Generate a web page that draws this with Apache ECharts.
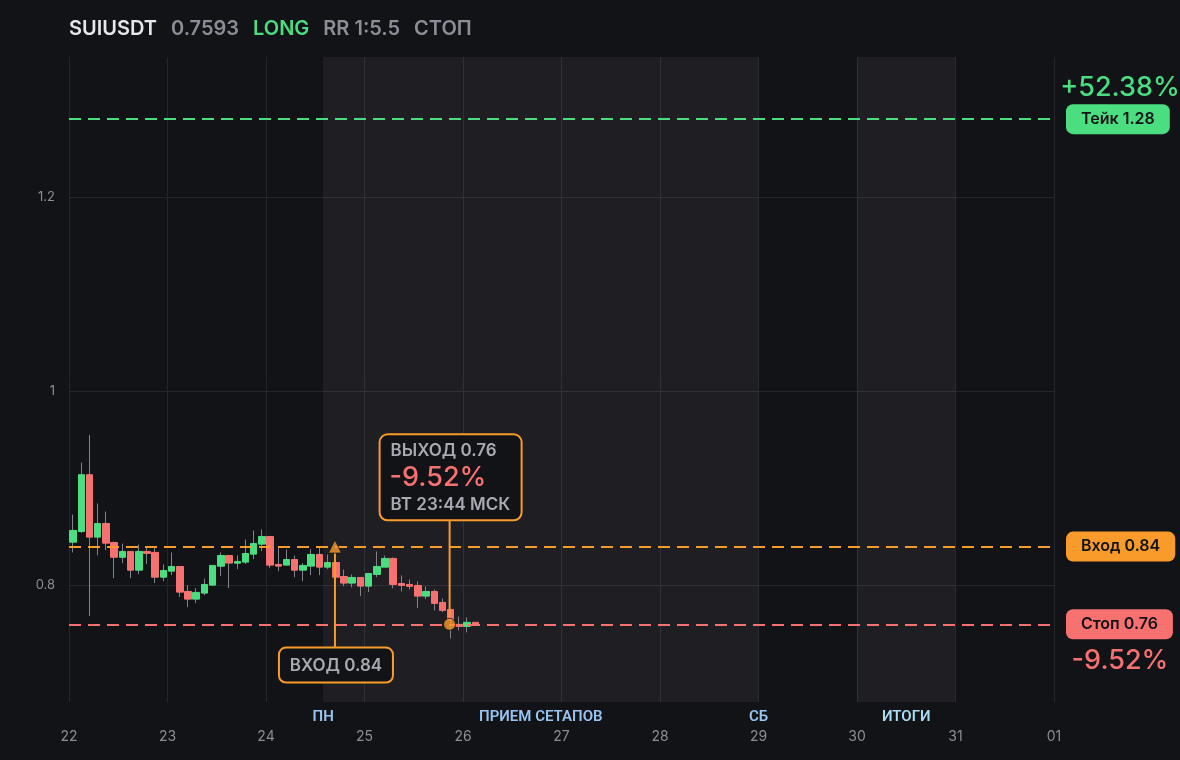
<!DOCTYPE html>
<html><head><meta charset="utf-8">
<script src="https://cdn.jsdelivr.net/npm/echarts@6/dist/echarts.min.js"></script>
<style>html,body{margin:0;padding:0;background:#121317;}#c{width:1180px;height:760px;}</style>
</head><body><div id="c"></div>
<script>
// ---- data ----
const dayLabels = ['22','23','24','25','26','27','28','29','30','31','01'];
const candleOpen  = [0.8445,0.8555,0.914,0.8497,0.8638,0.8442,0.829,0.835,0.8157,0.835,0.834,0.8085,0.8147,0.8195,0.7938,0.7859,0.7921,0.8003,0.8198,0.8308,0.8229,0.824,0.8322,0.8425,0.8504,0.8216,0.8209,0.8267,0.8157,0.8199,0.8319,0.8188,0.8236,0.8092,0.8024,0.8082,0.7993,0.8113,0.8188,0.8278,0.802,0.801,0.800,0.789,0.7938,0.7825,0.7753,0.7599,0.7578,0.762];
const candleHigh  = [0.873,0.9265,0.955,0.8843,0.876,0.8452,0.843,0.835,0.842,0.839,0.840,0.8216,0.834,0.8195,0.8003,0.7972,0.807,0.8206,0.834,0.8308,0.8308,0.8473,0.8566,0.8576,0.8504,0.8384,0.837,0.8308,0.823,0.8373,0.840,0.8319,0.8245,0.8164,0.8113,0.8082,0.8123,0.835,0.8308,0.8288,0.8103,0.806,0.8041,0.799,0.7959,0.7866,0.7753,0.768,0.767,0.762];
const candleLow   = [0.834,0.854,0.7684,0.831,0.8363,0.8075,0.823,0.8075,0.8116,0.822,0.8024,0.8044,0.8106,0.788,0.7777,0.7818,0.790,0.800,0.8096,0.7972,0.8168,0.822,0.827,0.8353,0.8178,0.8147,0.8209,0.8085,0.8044,0.8106,0.8106,0.8168,0.806,0.7993,0.798,0.789,0.7931,0.8085,0.8188,0.797,0.7938,0.7959,0.7767,0.7859,0.7743,0.7726,0.7455,0.7537,0.7517,0.7593];
const candleClose = [0.8566,0.914,0.8497,0.8638,0.8435,0.829,0.835,0.8157,0.835,0.833,0.8085,0.8154,0.8195,0.7931,0.7859,0.7928,0.801,0.8206,0.8308,0.823,0.8247,0.8329,0.8432,0.8504,0.8209,0.8199,0.8267,0.8157,0.8206,0.8319,0.8188,0.8236,0.8085,0.8024,0.8082,0.7993,0.8123,0.8195,0.8278,0.801,0.800,0.799,0.789,0.7938,0.7815,0.7743,0.765,0.7578,0.762,0.7593];
const candlesPerDay = 12;            // 2h candles
const headerTexts = ['SUIUSDT','0.7593','LONG','RR 1:5.5','СТОП'];
const levelNames  = ['Тейк 1.28','Вход 0.84','Стоп 0.76'];
const levelValues = [1.28, 0.84, 0.76];
const levelPcts   = ['+52.38%', '', '-9.52%'];
const bandStarts  = [2.58, 8];
const bandEnds    = [7, 9];
const sessionNames = ['ПН','ПРИЕМ СЕТАПОВ','СБ','ИТОГИ'];
const sessionDays  = [2.58, 4.79, 7, 8.5];
const yLabelValues = [0.8, 1, 1.2];
const tradeKinds  = ['entry','exit'];
const tradeDays   = [2.70, 3.864];
const tradePrices = [0.84, 0.76];
const tradeTexts  = [['ВХОД 0.84'], ['ВЫХОД 0.76','-9.52%','ВТ 23:44 МСК']];

// ---- style ----
const BG='#121317', GREEN='#4ade80', RED='#f87171', ORANGE='#f99b2b', GRID='#25262b', AXT='#8b8e96', WICK='#80838b';
const levelColors = [GREEN, ORANGE, RED];
const FONT = 'Inter, "Noto Sans", sans-serif';

const t = candleOpen.map((_, i) => (i + 0.5) / candlesPerDay);
const wickData = t.map((x, i) => [x, candleOpen[i], candleClose[i], candleLow[i], candleHigh[i]]);
const bodyData = t.map((x, i) => [x, candleOpen[i], candleClose[i], Math.min(candleOpen[i], candleClose[i]), Math.max(candleOpen[i], candleClose[i])]);

const chart = echarts.init(document.getElementById('c'), null, {renderer: 'canvas'});

const hdrColors = ['#e6e7ea', AXT, GREEN, AXT, AXT];
const rich = {};
headerTexts.forEach((s, i) => { rich['h' + i] = {color: hdrColors[i], fontSize: 20, fontWeight: 600, fontFamily: FONT, padding: [0, 14, 0, 0]}; });

chart.setOption({
  backgroundColor: BG,
  animation: false,
  title: {
    left: 69, top: 19, padding: 0,
    text: headerTexts.map((s, i) => '{h' + i + '|' + s + '}').join(''),
    textStyle: {rich: rich}
  },
  grid: {left: 69, right: 126, top: 57, bottom: 58},
  xAxis: {
    type: 'value', min: 0, max: 10, interval: 1,
    axisLine: {show: false}, axisTick: {show: false},
    splitLine: {show: true, lineStyle: {color: GRID, width: 1}},
    axisLabel: {color: AXT, fontSize: 14, fontFamily: FONT, margin: 28, formatter: v => dayLabels[Math.round(v)]}
  },
  yAxis: {
    type: 'value', min: 0.68, max: 1.344, scale: true,
    axisLine: {show: false},
    axisTick: {show: false, customValues: yLabelValues},
    splitLine: {show: true, lineStyle: {color: GRID, width: 1}},
    axisLabel: {color: AXT, fontSize: 13, fontFamily: FONT, margin: 14, customValues: yLabelValues, formatter: v => String(+v.toFixed(2))}
  },
  series: [
    {
      name: 'wicks', type: 'candlestick', z: 3, barWidth: 1,
      encode: {x: 0, y: [1, 2, 3, 4]},
      data: wickData,
      itemStyle: {color: 'transparent', color0: 'transparent', borderColor: WICK, borderColor0: WICK, borderWidth: 1},
      markArea: {
        silent: true,
        itemStyle: {color: 'rgba(255,255,255,0.055)'},
        data: bandStarts.map((s, i) => [{xAxis: s}, {xAxis: bandEnds[i]}])
      }
    },
    {
      name: 'bodies', type: 'candlestick', z: 4, barWidth: 7,
      encode: {x: 0, y: [1, 2, 3, 4]},
      data: bodyData,
      itemStyle: {color: GREEN, color0: RED, borderColor: GREEN, borderColor0: RED, borderWidth: 1},
      markLine: {
        silent: true, symbol: 'none', animation: false,
        data: levelValues.map((v, i) => ({
          yAxis: v,
          lineStyle: {color: levelColors[i], type: [12, 7], width: 2},
          label: {
            show: true, position: 'end', distance: 12, formatter: levelNames[i],
            color: '#121317', fontSize: 16, fontWeight: 600, fontFamily: FONT, lineHeight: 18,
            backgroundColor: levelColors[i], borderRadius: 7, padding: [6, 15, 6, 15]
          }
        }))
      },
      markPoint: {
        silent: true, symbol: 'rect', symbolSize: 1, itemStyle: {color: 'transparent'},
        data: [
          ...levelValues.map((v, i) => ({
            coord: [10, v],
            label: {show: !!levelPcts[i], formatter: levelPcts[i], position: 'inside', offset: [66, i === 0 ? -31 : 37],
              color: levelColors[i], fontSize: 27, fontWeight: 500, fontFamily: FONT, align: 'center', verticalAlign: 'middle'}
          })),
          ...sessionDays.map((d, i) => ({
            coord: [d, 0.68],
            label: {show: true, formatter: sessionNames[i], position: 'inside', offset: [0, 15],
              color: i === 3 ? '#a8dcf2' : '#98c4f2', fontSize: 15, fontWeight: 600, fontFamily: 'Roboto, ' + FONT,
              align: 'center', verticalAlign: 'middle'}
          }))
        ]
      }
    },
    {
      name: 'tradeBoxes', type: 'custom', z: 5, clip: false,
      encode: {x: 0, y: 1},
      data: tradeDays.map((d, i) => [d, tradePrices[i]]),
      renderItem: function (params, api) {
        const i = params.dataIndex;
        const p = api.coord([api.value(0), api.value(1)]);
        const x = p[0], y = p[1];
        const txt = tradeTexts[i];
        if (tradeKinds[i] === 'entry') {
          return {type: 'group', children: [
            {type: 'line', shape: {x1: x, y1: y + 6, x2: x, y2: y + 101}, style: {stroke: ORANGE, lineWidth: 2}},
            {type: 'rect', shape: {x: x - 56, y: y + 101, width: 114, height: 35, r: 7}, style: {fill: BG, stroke: ORANGE, lineWidth: 2}},
            {type: 'text', style: {x: x + 1, y: y + 119, text: txt[0], fill: '#a7aab2', font: '600 17px ' + FONT, align: 'center', verticalAlign: 'middle'}}
          ]};
        }
        return {type: 'group', children: [
          {type: 'line', shape: {x1: x, y1: y - 6, x2: x, y2: y - 104}, style: {stroke: ORANGE, lineWidth: 2}},
          {type: 'rect', shape: {x: x - 70, y: y - 190, width: 142, height: 86, r: 8}, style: {fill: BG, stroke: ORANGE, lineWidth: 2}},
          {type: 'text', style: {x: x - 59, y: y - 173, text: txt[0], fill: '#a7aab2', font: '600 17px ' + FONT, align: 'left', verticalAlign: 'middle'}},
          {type: 'text', style: {x: x - 60, y: y - 146, text: txt[1], fill: RED, font: '500 27px ' + FONT, align: 'left', verticalAlign: 'middle'}},
          {type: 'text', style: {x: x - 59, y: y - 119, text: txt[2], fill: '#a7aab2', font: '600 17px ' + FONT, align: 'left', verticalAlign: 'middle'}}
        ]};
      }
    },
    {
      name: 'markers', type: 'scatter', z: 6,
      data: tradeDays.map((d, i) => ({
        value: [d, tradePrices[i]],
        symbol: tradeKinds[i] === 'entry' ? 'triangle' : 'circle',
        symbolSize: tradeKinds[i] === 'entry' ? 13 : 12
      })),
      itemStyle: {color: ORANGE, borderColor: BG, borderWidth: 1}
    }
  ]
});
</script></body></html>
